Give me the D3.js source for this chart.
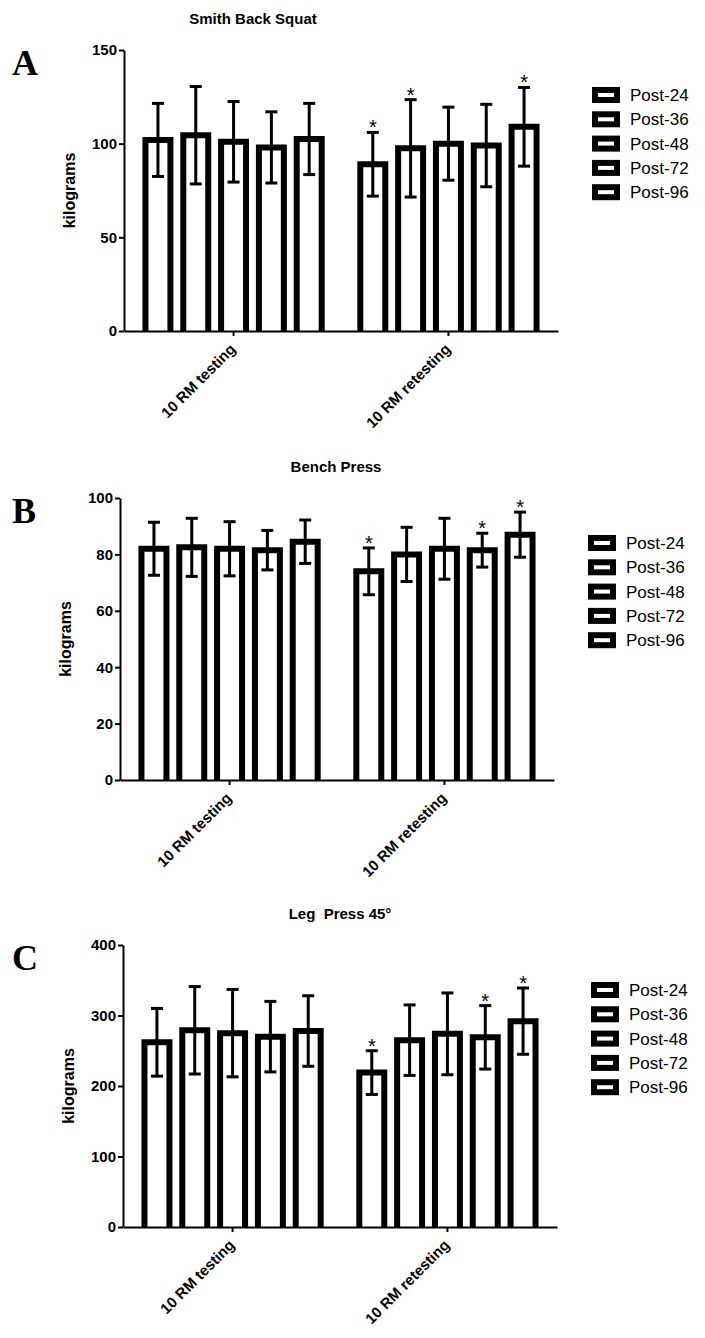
<!DOCTYPE html>
<html lang="en">
  <head>
    <title>10 RM testing vs retesting</title>
    <meta charset="utf-8" />
    <script src="https://cdn.jsdelivr.net/npm/d3@7"></script>
    <style>
      body { margin: 0; background: #fff; }
      svg { display: block; }
    </style>
  </head>
  <body>
    <svg id="chart" width="705" height="1338" viewBox="0 0 705 1338"></svg>
    <script>
      // Categories and series
      const groups = ["10 RM testing", "10 RM retesting"];
      const series = ["Post-24", "Post-36", "Post-48", "Post-72", "Post-96"];

      // Smith back squat (kg) - mean and SD per group/series
      const squatMean = [[102, 104.5, 101, 98, 102.5], [89, 97.5, 100, 99, 109]];
      const squatSd = [[19.5, 26, 21.5, 19, 19], [17, 26, 19.5, 22, 21]];
      const squatSig = [[0, 0, 0, 0, 0], [1, 1, 0, 0, 1]];
      const squatTicks = [0, 50, 100, 150];

      // Bench press (kg)
      const benchMean = [[82, 82.5, 82, 81.5, 84.5], [74, 80, 82, 81.5, 87]];
      const benchSd = [[9.4, 10.3, 9.6, 7, 7.7], [8.3, 9.6, 10.8, 6, 8]];
      const benchSig = [[0, 0, 0, 0, 0], [1, 0, 0, 1, 1]];
      const benchTicks = [0, 20, 40, 60, 80, 100];

      // Leg press 45 (kg)
      const legMean = [[262, 279, 275, 270, 278], [219, 265, 274, 269, 292]];
      const legSd = [[48, 62, 62, 50, 50], [31, 50, 58, 45, 47]];
      const legSig = [[0, 0, 0, 0, 0], [1, 0, 0, 1, 1]];
      const legTicks = [0, 100, 200, 300, 400];

      const panels = [
        { letter: "A", title: "Smith Back Squat", mean: squatMean, sd: squatSd, sig: squatSig,
          ticks: squatTicks, left: 124, top: 50, height: 281, titleX: 129 },
        { letter: "B", title: "Bench Press", mean: benchMean, sd: benchSd, sig: benchSig,
          ticks: benchTicks, left: 120, top: 498, height: 282, titleX: 216 },
        { letter: "C", title: "Leg  Press 45°", mean: legMean, sd: legSd, sig: legSig,
          ticks: legTicks, left: 123, top: 945, height: 282, titleX: 217 }
      ];

      const font = "Liberation Sans, Arial, sans-serif";
      const svg = d3.select("#chart").attr("font-family", font);
      const innerWidth = 434;

      panels.forEach((p) => {
        const g = svg.append("g").attr("transform", `translate(${p.left}, ${p.top})`);

        const x0 = d3.scaleBand().domain(groups).range([0, innerWidth])
          .paddingInner(0.12).paddingOuter(0.07);
        const x1 = d3.scaleBand().domain(series).range([0, x0.bandwidth()])
          .paddingInner(0.34).paddingOuter(0.17);
        const y = d3.scaleLinear().domain([0, d3.max(p.ticks)]).range([p.height, 0]);

        // flatten values
        const rows = [];
        groups.forEach((grp, gi) => {
          series.forEach((s, si) => {
            rows.push({ grp, s, mean: p.mean[gi][si], sd: p.sd[gi][si], sig: p.sig[gi][si] });
          });
        });
        const cx = (d) => x0(d.grp) + x1(d.s) + x1.bandwidth() / 2;

        // bars (open at the bottom, like the original)
        g.selectAll(".bar")
          .data(rows)
          .enter()
          .append("path")
          .attr("class", "bar")
          .attr("d", (d) => {
            const xl = x0(d.grp) + x1(d.s);
            const xr = xl + x1.bandwidth();
            return `M${xl},${y(0)}V${y(d.mean)}H${xr}V${y(0)}`;
          })
          .attr("fill", "#fff")
          .attr("stroke", "#000")
          .attr("stroke-width", 6);

        // error bars
        const err = g.selectAll(".err").data(rows).enter().append("g").attr("class", "err")
          .attr("stroke", "#000").attr("stroke-width", 3);
        err.append("line")
          .attr("x1", cx).attr("x2", cx)
          .attr("y1", (d) => y(d.mean + d.sd)).attr("y2", (d) => y(d.mean - d.sd));
        err.append("line")
          .attr("x1", (d) => cx(d) - 6).attr("x2", (d) => cx(d) + 6)
          .attr("y1", (d) => y(d.mean + d.sd)).attr("y2", (d) => y(d.mean + d.sd));
        err.append("line")
          .attr("x1", (d) => cx(d) - 6).attr("x2", (d) => cx(d) + 6)
          .attr("y1", (d) => y(d.mean - d.sd)).attr("y2", (d) => y(d.mean - d.sd));

        // significance stars
        g.selectAll(".star")
          .data(rows.filter((d) => d.sig))
          .enter()
          .append("text")
          .attr("class", "star")
          .attr("x", cx)
          .attr("y", (d) => y(d.mean + d.sd) + 2)
          .attr("text-anchor", "middle")
          .attr("font-size", 20)
          .text("*");

        // axes
        const yAxis = g.append("g")
          .call(d3.axisLeft(y).tickValues(p.ticks).tickSize(5).tickSizeOuter(0).tickPadding(2))
          .attr("font-family", font)
          .attr("font-size", 15)
          .attr("font-weight", 700);
        yAxis.select(".domain").attr("stroke-width", 2);
        yAxis.selectAll(".tick line").attr("stroke-width", 2);
        yAxis.selectAll("text").attr("fill", "#000");

        const xAxis = g.append("g")
          .attr("transform", `translate(0, ${p.height})`)
          .call(d3.axisBottom(x0).tickSize(5).tickSizeOuter(0))
          .attr("font-family", font)
          .attr("font-size", 15)
          .attr("font-weight", 700);
        xAxis.select(".domain").attr("stroke-width", 2);
        xAxis.selectAll(".tick line").attr("stroke-width", 2);
        xAxis.selectAll("text")
          .attr("x", 0).attr("y", 0).attr("dy", 0)
          .attr("text-anchor", "end")
          .attr("transform", "translate(3, 19) rotate(-45)")
          .attr("fill", "#000");

        // y label
        g.append("text")
          .attr("transform", `translate(-49, ${p.height / 2}) rotate(-90)`)
          .attr("text-anchor", "middle")
          .attr("font-size", 16)
          .attr("font-weight", 700)
          .text("kilograms");

        // title
        g.append("text")
          .attr("x", p.titleX)
          .attr("y", -26)
          .attr("text-anchor", "middle")
          .attr("font-size", 15)
          .attr("font-weight", 700)
          .attr("xml:space", "preserve")
          .text(p.title);

        // panel letter
        svg.append("text")
          .attr("x", 12)
          .attr("y", p.top + 25)
          .attr("font-family", "Liberation Serif, Times New Roman, serif")
          .attr("font-size", 36)
          .attr("font-weight", 700)
          .text(p.letter);

        // legend
        const legend = g.append("g").attr("transform", `translate(${innerWidth + 34}, 45)`);
        const item = legend.selectAll(".legend-item")
          .data(series)
          .enter()
          .append("g")
          .attr("class", "legend-item")
          .attr("transform", (d, i) => `translate(0, ${i * 24.3})`);
        item.append("rect")
          .attr("x", 3).attr("y", -5)
          .attr("width", 22).attr("height", 10)
          .attr("fill", "#fff")
          .attr("stroke", "#000")
          .attr("stroke-width", 6);
        item.append("text")
          .attr("x", 38)
          .attr("y", 0)
          .attr("dy", "0.35em")
          .attr("font-size", 17)
          .text((d) => d);
      });
    </script>
  </body>
</html>
